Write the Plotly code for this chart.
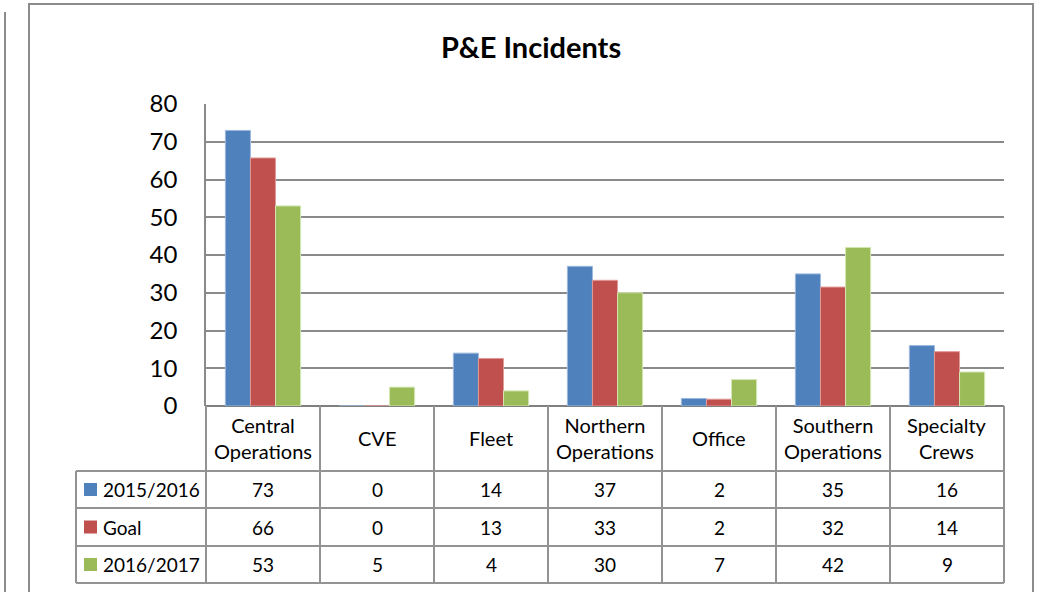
import plotly.graph_objects as go

# ---------------- data ----------------
categories = ["Central Operations", "CVE", "Fleet", "Northern Operations",
              "Office", "Southern Operations", "Specialty Crews"]
category_labels = ["Central<br>Operations", "CVE", "Fleet", "Northern<br>Operations",
                   "Office", "Southern<br>Operations", "Specialty<br>Crews"]
series_names = ["2015/2016", "Goal", "2016/2017"]
values_2015_2016 = [73, 0, 14, 37, 2, 35, 16]
values_goal = [65.7, 0, 12.6, 33.3, 1.8, 31.5, 14.4]
values_2016_2017 = [53, 5, 4, 30, 7, 42, 9]
y_tick_values = [0, 10, 20, 30, 40, 50, 60, 70, 80]
title_text = "P&E Incidents"

# ---------------- styling ----------------
series_values = [values_2015_2016, values_goal, values_2016_2017]
fill_colors = ["#4F81BD", "#C0504D", "#9BBB59"]
edge_colors = ["#9CB8DD", "#E09A98", "#D3E6B0"]
FONT = "Lato"
GRID = "#8A8A8A"
TABLE_LINE = "#939393"

W, H = 1042, 592
L, R, T, B = 206, 38, 104, 186
plot_w = W - L - R
plot_h = H - T - B


def py(pix):  # pixel y -> paper y
    return (H - B - pix) / plot_h


def px(pix):  # pixel x -> paper x
    return (pix - L) / plot_w


fig = go.Figure()
for name, vals, fc, ec in zip(series_names, series_values, fill_colors, edge_colors):
    fig.add_trace(go.Bar(
        x=categories, y=vals, name=name,
        marker=dict(color=fc, line=dict(color=ec, width=1)),
        hoverinfo="x+y+name",
    ))

shapes = []
annotations = []

# outer frames
shapes.append(dict(type="rect", xref="paper", yref="paper",
                   x0=px(29), x1=px(1033), y0=py(620), y1=py(4),
                   line=dict(color="#8C8C8C", width=2), layer="below"))
shapes.append(dict(type="line", xref="paper", yref="paper",
                   x0=px(5), x1=px(5), y0=py(620), y1=py(12),
                   line=dict(color="#8C8C8C", width=2), layer="below"))

# data table geometry (pixel rows)
header_top, header_bottom = 406, 471
row_edges = [471, 508, 546, 583]
legend_left = 76

# horizontal table lines
for r_pix in row_edges:
    shapes.append(dict(type="line", xref="paper", yref="paper",
                       x0=px(legend_left), x1=1, y0=py(r_pix), y1=py(r_pix),
                       line=dict(color=TABLE_LINE, width=2)))
# vertical line: left legend column edge
shapes.append(dict(type="line", xref="paper", yref="paper",
                   x0=px(legend_left), x1=px(legend_left),
                   y0=py(row_edges[0]), y1=py(row_edges[-1]),
                   line=dict(color=TABLE_LINE, width=2)))
# category column boundaries
n = len(categories)
for i in range(n + 1):
    if i == 0:
        xr, xv = "paper", 0
    elif i == n:
        xr, xv = "paper", 1
    else:
        xr, xv = "x", i - 0.5
    shapes.append(dict(type="line", xref=xr, yref="paper",
                       x0=xv, x1=xv, y0=py(header_top), y1=py(row_edges[-1]),
                       line=dict(color=TABLE_LINE, width=2)))

# header labels
for i, lab in enumerate(category_labels):
    annotations.append(dict(x=i, xref="x", y=py((header_top + header_bottom) / 2 - 1),
                            yref="paper", text=lab, showarrow=False,
                            font=dict(family=FONT, size=20, color="black"),
                            xanchor="center", yanchor="middle"))

# rows
for r, (name, vals, fc) in enumerate(zip(series_names, series_values, fill_colors)):
    top, bot = row_edges[r], row_edges[r + 1]
    cy = (top + bot) / 2
    shapes.append(dict(type="rect", xref="paper", yref="paper",
                       x0=px(84), x1=px(97), y0=py(cy + 6.5), y1=py(cy - 6.5),
                       fillcolor=fc, line=dict(width=0)))
    annotations.append(dict(x=px(101), xref="paper", y=py(cy), yref="paper",
                            text=name, showarrow=False, xanchor="left", yanchor="middle",
                            font=dict(family=FONT, size=19, color="black")))
    for i, v in enumerate(vals):
        annotations.append(dict(x=i, xref="x", y=py(cy), yref="paper",
                                text=f"{v:.0f}", showarrow=False,
                                xanchor="center", yanchor="middle",
                                font=dict(family=FONT, size=19, color="black")))

fig.update_layout(
    width=W, height=H,
    margin=dict(l=L, r=R, t=T, b=B, pad=0),
    paper_bgcolor="white", plot_bgcolor="white",
    barmode="group", bargap=0.34, bargroupgap=0,
    showlegend=False,
    title=dict(text=f"<b>{title_text}</b>", x=531 / W, xref="container", xanchor="center",
               y=1 - 48 / H, yref="container", yanchor="middle",
               font=dict(family=FONT, size=29, color="black")),
    xaxis=dict(showticklabels=False, showgrid=False, zeroline=False,
               showline=False, ticks="", range=[-0.5, n - 0.5], fixedrange=True),
    yaxis=dict(range=[0, 80], tickvals=y_tick_values, showgrid=True,
               gridcolor=GRID, gridwidth=1.5, zeroline=True, zerolinecolor="#808080",
               zerolinewidth=2, showline=True, linecolor=GRID, linewidth=1.5,
               ticks="", ticklabelstandoff=22,
               tickfont=dict(family=FONT, size=24, color="black"), fixedrange=True),
    shapes=shapes, annotations=annotations,
)

fig.write_html("out.html",
               config={"displayModeBar": False},
               post_script="document.body.style.margin='0px';document.body.style.overflow='hidden';")
